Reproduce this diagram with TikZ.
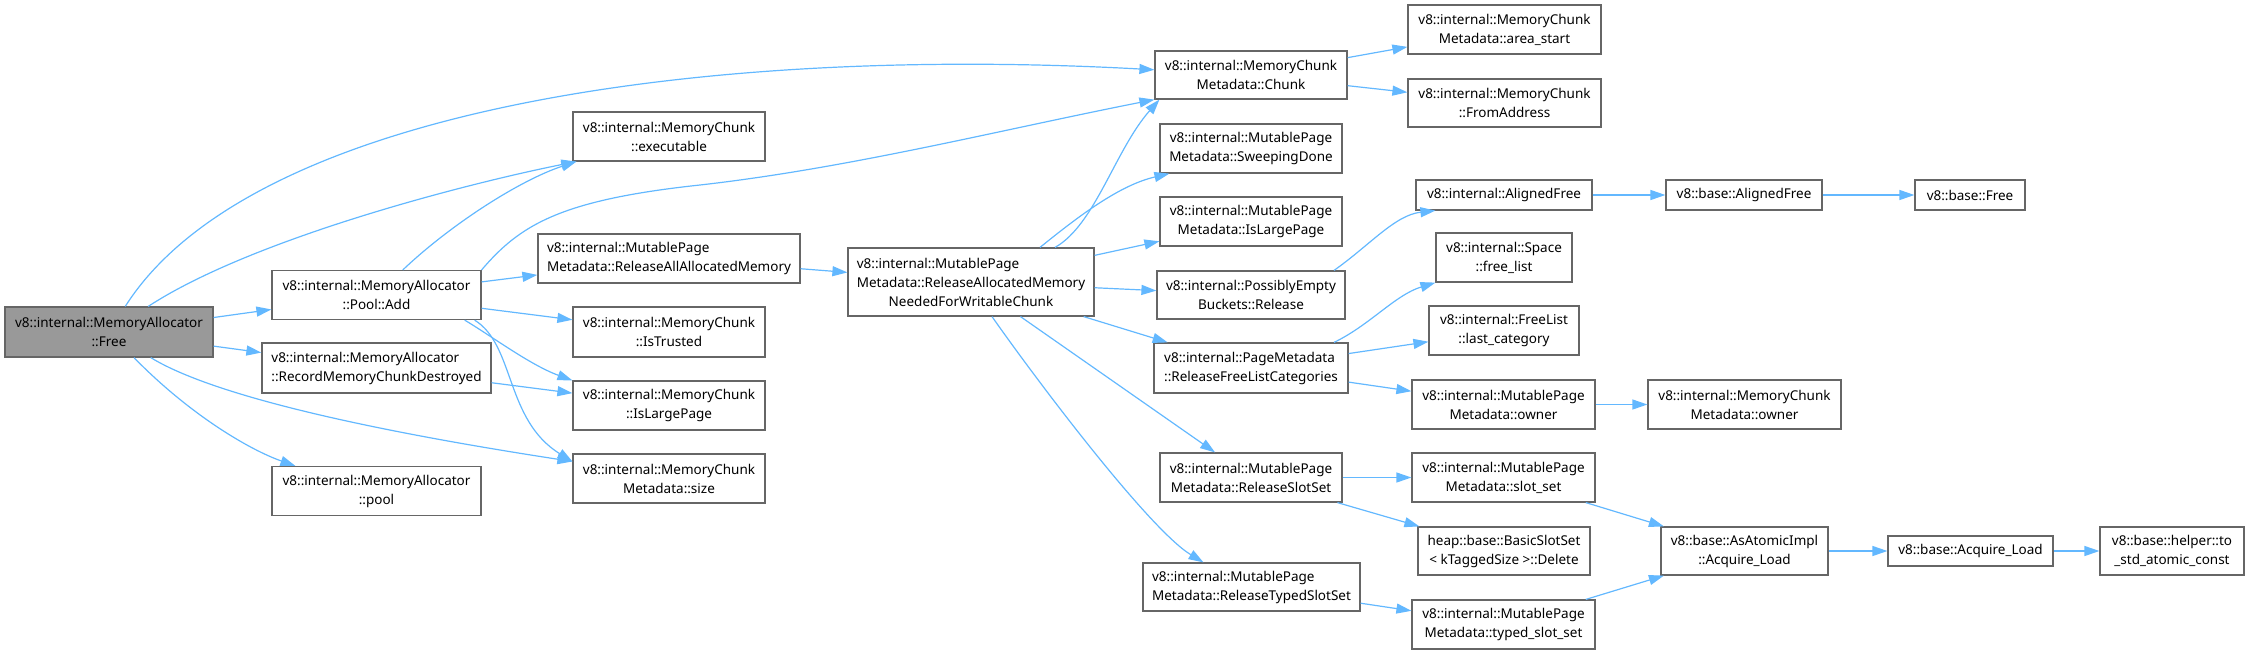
\documentclass[tikz,border=0pt]{standalone}
\usepackage{xcolor}
\definecolor{edgeblue}{HTML}{63B8FF}
\definecolor{boxline}{HTML}{666666}
\definecolor{rootfill}{HTML}{999999}
\usepackage{fontspec}
\setmainfont{Noto Sans}
\usepackage{tikz}
\usetikzlibrary{arrows.meta}
\newcommand{\leftpad}[2]{\rlap{#1}\phantom{#2}}

\begin{document}
\begin{tikzpicture}[x=1pt, y=-1pt,
    fn/.style={draw=boxline, line width=1.2pt, fill=white, align=center,
      font=\fontsize{13.5}{19}\selectfont, inner sep=2pt,
      minimum height=30pt, minimum width=#1},
    tall/.style={minimum height=49pt},
    root/.style={fill=rootfill},
    call/.style={draw=edgeblue, line width=1.2pt,
      -{Triangle[length=15pt, width=10pt]}}]
  \useasboundingbox (0,0) rectangle (2250,654);
  % first columns
  \node[fn=208, tall, root, minimum height=50pt] (free) at (109,332)
    {v8::internal::MemoryAllocator\\::Free};
  \node[fn=209, tall] (pooladd) at (376.5,295)
    {v8::internal::MemoryAllocator\\::Pool::Add};
  \node[fn=229, tall, align=left, minimum height=50pt] (record) at (376.5,368)
    {v8::internal::MemoryAllocator\\::RecordMemoryChunkDestroyed};
  \node[fn=209, tall] (pool) at (376.5,491)
    {v8::internal::MemoryAllocator\\::pool};
  \node[fn=192, tall] (executable) at (669,136.5)
    {v8::internal::MemoryChunk\\::executable};
  \node[fn=262, tall, align=left] (releaseall) at (669,258.5)
    {v8::internal::MutablePage\\Metadata::ReleaseAllAllocatedMemory};
  \node[fn=192, tall, minimum height=50pt] (istrusted) at (669,332)
    {v8::internal::MemoryChunk\\::IsTrusted};
  \node[fn=192, tall] (islargemc) at (669,405.5)
    {v8::internal::MemoryChunk\\::IsLargePage};
  \node[fn=192, tall] (size) at (669,478.5)
    {v8::internal::MemoryChunk\\Metadata::size};
  \node[fn=246, minimum height=68pt] (ramn) at (971,282)
    {\leftpad{v8::internal::MutablePage}{Metadata::ReleaseAllocatedMemory}\\
     Metadata::ReleaseAllocatedMemory\\NeededForWritableChunk};
  % middle column
  \node[fn=192, tall, minimum height=48pt] (chunk) at (1251,75)
    {v8::internal::MemoryChunk\\Metadata::Chunk};
  \node[fn=182, tall] (sweeping) at (1251,148.5)
    {v8::internal::MutablePage\\Metadata::SweepingDone};
  \node[fn=182, tall] (islargemp) at (1251,221.5)
    {v8::internal::MutablePage\\Metadata::IsLargePage};
  \node[fn=188, tall, minimum height=48pt] (possibly) at (1251,295)
    {v8::internal::PossiblyEmpty\\Buckets::Release};
  \node[fn=194, tall, align=left, minimum height=50pt] (freelistcat) at (1251,368)
    {v8::internal::PageMetadata\\::ReleaseFreeListCategories};
  \node[fn=182, tall] (releaseslot) at (1251,477.5)
    {v8::internal::MutablePage\\Metadata::ReleaseSlotSet};
  \node[fn=217, tall, align=left, minimum height=48pt] (releasetyped) at (1251.5,587)
    {v8::internal::MutablePage\\Metadata::ReleaseTypedSlotSet};
  % right columns
  \node[fn=193, tall] (areastart) at (1504.5,29.5)
    {v8::internal::MemoryChunk\\Metadata::area\_start};
  \node[fn=193, tall, minimum height=48pt] (fromaddress) at (1504.5,103)
    {v8::internal::MemoryChunk\\::FromAddress};
  \node[fn=176] (alignedint) at (1504,195) {v8::internal::AlignedFree};
  \node[fn=136, tall] (freelist) at (1504,257.5)
    {v8::internal::Space\\::free\_list};
  \node[fn=150, tall] (lastcat) at (1504,330.5)
    {v8::internal::FreeList\\::last\_category};
  \node[fn=183, tall] (mpowner) at (1503.5,404.5)
    {v8::internal::MutablePage\\Metadata::owner};
  \node[fn=183, tall] (slotset) at (1503.5,477.5)
    {v8::internal::MutablePage\\Metadata::slot\_set};
  \node[fn=172, tall, minimum height=48pt] (basicslot) at (1504,551)
    {heap::base::BasicSlotSet\\< kTaggedSize >::Delete};
  \node[fn=183, tall] (typedslot) at (1503.5,624.5)
    {v8::internal::MutablePage\\Metadata::typed\_slot\_set};
  \node[fn=156] (basealigned) at (1744,195) {v8::base::AlignedFree};
  \node[fn=110] (basefree) at (1970,195) {v8::base::Free};
  \node[fn=193, tall] (mcowner) at (1744.5,404.5)
    {v8::internal::MemoryChunk\\Metadata::owner};
  \node[fn=167, tall, minimum height=48pt] (asatomic) at (1744.5,551)
    {v8::base::AsAtomicImpl\\::Acquire\_Load};
  \node[fn=165] (acquire) at (1970.5,551) {v8::base::Acquire\_Load};
  \node[fn=144, tall, minimum height=48pt] (tostd) at (2172,551)
    {v8::base::helper::to\\\_std\_atomic\_const};

  % calls from Free
  \draw[call] (free) .. controls (250,110) and (700,45) .. (chunk);
  \draw[call] (free) .. controls (250,240) and (460,185) .. ([xshift=4]executable.south west);
  \draw[call] (free) -- (pooladd);
  \draw[call] (free) -- (record);
  \draw[call] (free) .. controls (220,400) and (400,435) .. (size.170);
  \draw[call] (free) .. controls (190,415) and (250,450) .. ([xshift=24]pool.north west);
  % calls from Pool::Add
  \draw[call] (pooladd) .. controls (450,225) and (520,180) .. ([xshift=4]executable.south west);
  \draw[call] (pooladd.north east) .. controls (520,225) and (560,200) .. (700,185)
    .. controls (850,168) and (1000,130) .. (chunk.south west);
  \draw[call] (pooladd) -- (releaseall);
  \draw[call] (pooladd) -- (istrusted);
  \draw[call] ([xshift=-17]pooladd.south east) .. controls (490,335) and (530,365) .. (islargemc.north west);
  \draw[call] ([xshift=-7]pooladd.south east) .. controls (515,345) and (505,420) .. (size.170);
  \draw[call] (record) -- (islargemc);
  \draw[call] (releaseall) -- (ramn);
  % calls from ReleaseAllocatedMemoryNeededForWritableChunk
  \draw[call] ([xshift=84]ramn.north) .. controls (1095,225) and (1115,150) .. ([xshift=5]chunk.south west);
  \draw[call] ([xshift=69]ramn.north) .. controls (1080,215) and (1120,185) .. ([xshift=10]sweeping.south west);
  \draw[call] (ramn) -- (islargemp);
  \draw[call] (ramn) -- (possibly);
  \draw[call] (ramn) -- (freelistcat);
  \draw[call] (ramn) -- (releaseslot);
  \draw[call] ([xshift=21]ramn.south) .. controls (1040,385) and (1150,530) .. ([xshift=-48]releasetyped.north);
  % deeper calls
  \draw[call] (chunk) -- (areastart);
  \draw[call] (chunk) -- (fromaddress);
  \draw[call] ([xshift=83]possibly.north) .. controls (1370,245) and (1395,215) .. ([xshift=20]alignedint.south west);
  \draw[call] ([xshift=83]freelistcat.north) .. controls (1370,325) and (1395,295) .. (freelist.south west);
  \draw[call] (freelistcat) -- (lastcat);
  \draw[call] (freelistcat) -- (mpowner);
  \draw[call] (releaseslot) -- (slotset);
  \draw[call] (releaseslot) -- (basicslot);
  \draw[call] (releasetyped) -- (typedslot);
  \draw[call] (alignedint) -- (basealigned);
  \draw[call] (basealigned) -- (basefree);
  \draw[call] (mpowner) -- (mcowner);
  \draw[call] (slotset) -- (asatomic);
  \draw[call] (typedslot) -- (asatomic);
  \draw[call] (asatomic) -- (acquire);
  \draw[call] (acquire) -- (tostd);
\end{tikzpicture}
\end{document}
